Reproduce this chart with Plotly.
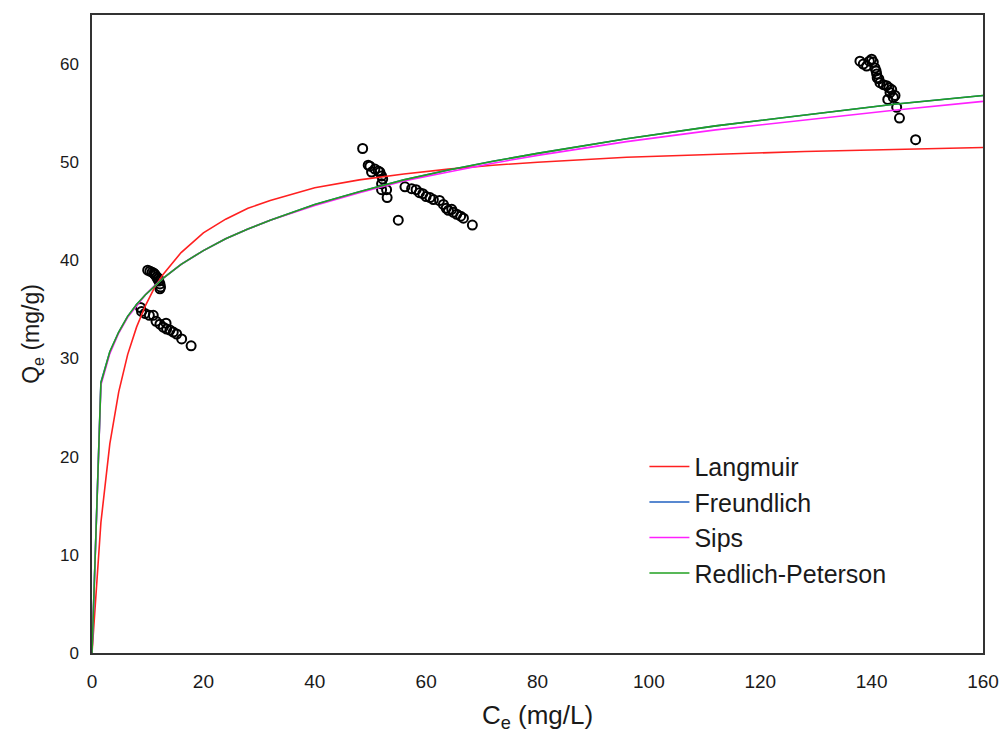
import plotly.graph_objects as go

# Experimental data (Ce, Qe)
ce_data = [10.0, 10.4, 10.8, 11.1, 11.4, 11.6, 11.8, 12.0, 12.2, 12.3, 12.2, 11.9, 11.2,
           8.7, 8.9, 9.5, 10.3, 11.0, 11.5, 12.2, 12.8, 13.3, 13.4, 14.0, 14.6, 15.2, 16.1, 17.8,
           48.6, 49.6, 49.9, 50.2, 50.8, 51.4, 51.7, 52.0, 52.2, 52.0, 52.0, 52.9, 53.0, 55.0,
           56.2, 57.4, 58.2, 58.8, 59.4, 60.0, 60.7, 61.3, 62.4, 63.1, 63.6, 64.0, 64.6, 64.9,
           65.5, 66.2, 66.7, 68.3,
           137.9, 138.5, 139.1, 139.6, 140.0, 140.3, 140.6, 140.8, 140.9, 141.0, 141.3, 141.5,
           142.1, 142.7, 143.1, 143.3, 143.6, 142.9, 143.9, 144.2, 144.5, 145.0, 147.9]
qe_data = [39.0, 38.9, 38.8, 38.7, 38.5, 38.3, 38.1, 37.9, 37.6, 37.3, 37.1, 38.2, 38.6,
           35.2, 34.8, 34.6, 34.4, 34.4, 33.8, 33.5, 33.2, 33.6, 33.0, 32.9, 32.7, 32.5, 32.0, 31.3,
           51.4, 49.7, 49.6, 49.0, 49.3, 49.1, 49.0, 48.6, 48.3, 47.8, 47.2, 47.2, 46.4, 44.1,
           47.5, 47.3, 47.2, 46.9, 46.8, 46.5, 46.4, 46.2, 46.1, 45.7, 45.3, 45.1, 45.2, 44.9,
           44.7, 44.5, 44.3, 43.6,
           60.3, 60.0, 59.8, 60.3, 60.5, 60.2, 59.6, 59.3, 59.0, 58.6, 58.5, 58.1,
           57.9, 57.8, 57.6, 57.1, 57.4, 56.4, 56.6, 56.8, 55.6, 54.5, 52.3]

# Model curves
ce_fit = [0, 1.6, 3.2, 4.8, 6.4, 8, 9.6, 11.2, 12.8, 16, 20, 24, 28, 32, 40, 48, 56,
          64, 72, 80, 96, 112, 128, 144, 160]
q_langmuir = [0, 13.3, 21.3, 26.6, 30.4, 33.2, 35.4, 37.2, 38.6, 40.8, 42.8, 44.2, 45.3,
              46.1, 47.4, 48.2, 48.8, 49.3, 49.7, 50.0, 50.5, 50.8, 51.1, 51.3, 51.5]
q_freundlich = [0, 27.6, 30.7, 32.7, 34.3, 35.5, 36.5, 37.4, 38.2, 39.6, 41.0, 42.2, 43.2,
                44.1, 45.7, 47.0, 48.2, 49.2, 50.1, 50.9, 52.4, 53.7, 54.8, 55.9, 56.8]
q_sips = [0, 27.3, 30.5, 32.6, 34.2, 35.4, 36.5, 37.4, 38.2, 39.6, 41.0, 42.2, 43.2,
          44.1, 45.6, 46.9, 48.1, 49.0, 49.9, 50.7, 52.1, 53.3, 54.3, 55.3, 56.2]
q_redlich = [0, 27.5, 30.7, 32.7, 34.3, 35.5, 36.5, 37.4, 38.2, 39.6, 41.0, 42.2, 43.2,
             44.1, 45.7, 47.0, 48.2, 49.2, 50.1, 50.9, 52.4, 53.7, 54.8, 55.9, 56.8]

x_ticks = [0, 20, 40, 60, 80, 100, 120, 140, 160]
y_ticks = [0, 10, 20, 30, 40, 50, 60]

fig = go.Figure()
fig.add_trace(go.Scatter(x=ce_data, y=qe_data, mode="markers", showlegend=False,
                         marker=dict(symbol="circle-open", size=9, color="black",
                                     line=dict(width=2, color="black"))))
fig.add_trace(go.Scatter(x=ce_fit, y=q_langmuir, mode="lines", name="Langmuir",
                         line=dict(color="#ff2020", width=1.6)))
fig.add_trace(go.Scatter(x=ce_fit, y=q_freundlich, mode="lines", name="Freundlich",
                         line=dict(color="#2060c0", width=1.6)))
fig.add_trace(go.Scatter(x=ce_fit, y=q_sips, mode="lines", name="Sips",
                         line=dict(color="#ff20ff", width=1.6)))
fig.add_trace(go.Scatter(x=ce_fit, y=q_redlich, mode="lines", name="Redlich-Peterson",
                         line=dict(color="#20a020", width=1.6)))

fig.update_layout(
    width=1003, height=733,
    margin=dict(l=92, r=20, t=15, b=80),
    paper_bgcolor="white", plot_bgcolor="white",
    font=dict(family="Liberation Sans, Arial, sans-serif", color="#1a1a1a"),
    legend=dict(x=0.62, y=0.328, xanchor="left", yanchor="top",
                font=dict(size=25, color="#1a1a1a"), bgcolor="rgba(0,0,0,0)",
                itemwidth=40, tracegroupgap=0),
    xaxis=dict(range=[0, 160], tickvals=x_ticks, showgrid=False, zeroline=False,
               showline=True, linecolor="#333333", linewidth=1.5, mirror=True, ticks="",
               automargin=False,
               tickfont=dict(size=19), ticklabelstandoff=10,
               title=dict(text="C<sub>e</sub> (mg/L)", font=dict(size=26), standoff=24)),
    yaxis=dict(range=[0, 65], tickvals=y_ticks, showgrid=False, zeroline=False,
               showline=True, linecolor="#333333", linewidth=1.5, mirror=True, ticks="",
               automargin=False,
               tickfont=dict(size=17), ticklabelstandoff=8,
               title=dict(text="Q<sub>e</sub> (mg/g)", font=dict(size=23), standoff=14)),
)

fig.write_html("out.html")
